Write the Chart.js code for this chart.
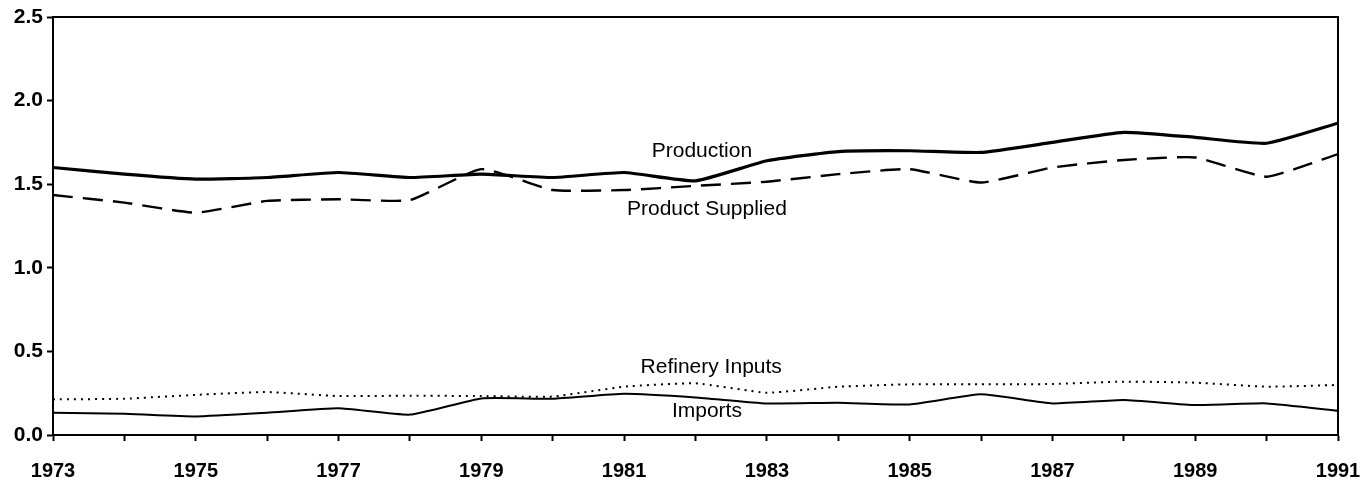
<!DOCTYPE html>
<html>
<head>
<meta charset="utf-8">
<title>Supply trends 1973-1991</title>
<script src="https://cdn.jsdelivr.net/npm/chart.js@4/dist/chart.umd.min.js"></script>
<style>
  html, body { margin: 0; padding: 0; background: #fff; }
  #wrap { width: 1362px; height: 482px; position: relative; }
</style>
</head>
<body>
<div id="wrap"><canvas id="chart"></canvas></div>
<script>
// yearly series
const years = [1973, 1974, 1975, 1976, 1977, 1978, 1979, 1980, 1981, 1982,
               1983, 1984, 1985, 1986, 1987, 1988, 1989, 1990, 1991];
const production = [1.60, 1.56, 1.53, 1.54, 1.57, 1.54, 1.56, 1.54, 1.57, 1.52,
                    1.64, 1.695, 1.70, 1.69, 1.75, 1.81, 1.78, 1.745, 1.865];
const productSupplied = [1.435, 1.39, 1.33, 1.40, 1.41, 1.405, 1.59, 1.465, 1.465, 1.49,
                         1.515, 1.56, 1.59, 1.51, 1.60, 1.645, 1.66, 1.545, 1.68];
const refineryInputs = [0.213, 0.217, 0.24, 0.257, 0.233, 0.235, 0.233, 0.23, 0.289, 0.309,
                        0.253, 0.289, 0.303, 0.303, 0.305, 0.319, 0.313, 0.289, 0.299];
const imports = [0.133, 0.127, 0.111, 0.133, 0.16, 0.122, 0.219, 0.217, 0.247, 0.225,
                 0.189, 0.193, 0.183, 0.243, 0.189, 0.209, 0.179, 0.189, 0.145];
const yTicks = [0, 0.5, 1.0, 1.5, 2.0, 2.5];

// series names, placed next to their lines at [year, value]
const seriesLabels = [
  { text: 'Production', at: [1982.09, 1.70] },
  { text: 'Product Supplied', at: [1982.16, 1.35] },
  { text: 'Refinery Inputs', at: [1982.22, 0.405] },
  { text: 'Imports', at: [1982.16, 0.14] }
];

const pts = vals => vals.map((v, i) => ({ x: years[i], y: v }));

const frameAndLabels = {
  id: 'frameAndLabels',
  afterDatasetsDraw(chart) {
    const { ctx, chartArea: a, scales: { x, y } } = chart;
    ctx.save();
    ctx.strokeStyle = '#000';
    ctx.lineWidth = 2;
    ctx.beginPath();
    ctx.moveTo(a.left, a.top);
    ctx.lineTo(a.right, a.top);
    ctx.lineTo(a.right, a.bottom);
    ctx.stroke();

    ctx.fillStyle = '#000';
    ctx.font = '21px "Liberation Sans", Arial, sans-serif';
    ctx.textAlign = 'center';
    ctx.textBaseline = 'middle';
    seriesLabels.forEach(l => {
      ctx.fillText(l.text, x.getPixelForValue(l.at[0]), y.getPixelForValue(l.at[1]));
    });
    ctx.restore();
  }
};

const tickFont = { family: '"Liberation Sans", Arial, sans-serif', size: 20, weight: 'bold' };

new Chart(document.getElementById('chart'), {
  type: 'line',
  data: {
    datasets: [
      { label: 'Production', data: pts(production), borderColor: '#000', borderWidth: 3.2 },
      { label: 'Product Supplied', data: pts(productSupplied), borderColor: '#000', borderWidth: 2.4,
        borderDash: [20, 10] },
      { label: 'Refinery Inputs', data: pts(refineryInputs), borderColor: '#000', borderWidth: 2,
        borderDash: [2, 5] },
      { label: 'Imports', data: pts(imports), borderColor: '#000', borderWidth: 2 }
    ]
  },
  options: {
    responsive: true,
    maintainAspectRatio: false,
    animation: false,
    layout: { padding: { top: 17, right: 24, left: 0, bottom: 0 } },
    elements: {
      point: { radius: 0 },
      line: { tension: 0.15, fill: false, borderCapStyle: 'butt' }
    },
    plugins: {
      legend: { display: false },
      tooltip: { enabled: false }
    },
    scales: {
      x: {
        type: 'linear',
        min: 1973,
        max: 1991,
        afterFit: s => { s.height = 47; s.paddingLeft = 0; s.paddingRight = 0; },
        grid: { drawOnChartArea: false, drawTicks: true, tickLength: 6, tickWidth: 2, color: '#000' },
        border: { display: true, color: '#000', width: 2 },
        ticks: {
          stepSize: 1,
          autoSkip: false,
          maxRotation: 0,
          padding: 18,
          color: '#000',
          font: tickFont,
          callback: v => ((v - 1973) % 2 === 0 ? String(v) : '')
        }
      },
      y: {
        min: 0,
        max: 2.5,
        afterFit: s => { s.width = 53; s.paddingTop = 0; s.paddingBottom = 0; },
        afterBuildTicks: s => { s.ticks = yTicks.map(v => ({ value: v })); },
        grid: { drawOnChartArea: false, drawTicks: true, tickLength: 6, tickWidth: 2, color: '#000' },
        border: { display: true, color: '#000', width: 2 },
        ticks: {
          padding: 4,
          color: '#000',
          font: { family: '"Liberation Sans", Arial, sans-serif', size: 21, weight: 'bold' },
          callback: v => v.toFixed(1)
        }
      }
    }
  },
  plugins: [frameAndLabels]
});
</script>
</body>
</html>
